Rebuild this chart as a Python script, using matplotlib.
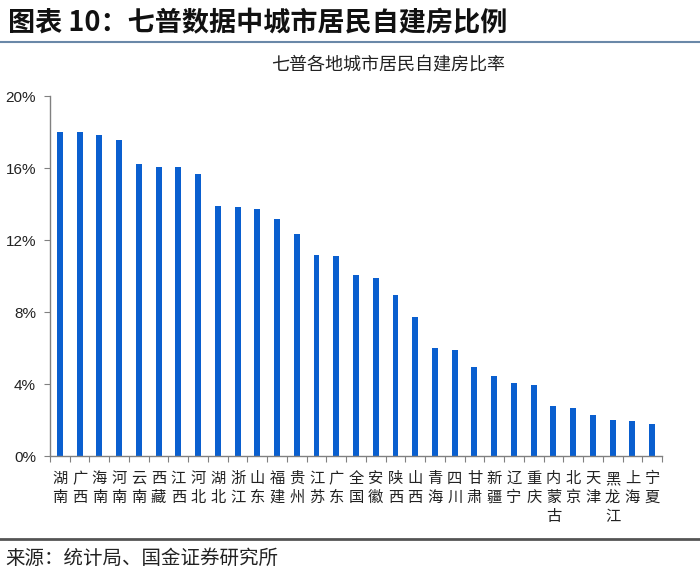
import matplotlib
matplotlib.use("Agg")
import matplotlib.pyplot as plt
from matplotlib.lines import Line2D
import numpy as np

plt.rcParams['font.family'] = ['Noto Sans CJK SC', 'DejaVu Sans']

# --- data ---
regions = ['湖南', '广西', '海南', '河南', '云南', '西藏', '江西', '河北', '湖北', '浙江',
           '山东', '福建', '贵州', '江苏', '广东', '全国', '安徽', '陕西', '山西', '青海',
           '四川', '甘肃', '新疆', '辽宁', '重庆', '内蒙古', '北京', '天津', '黑龙江', '上海',
           '宁夏']
ratio = [17.98, 17.98, 17.83, 17.54, 16.20, 16.07, 16.07, 15.67, 13.89, 13.81,
         13.70, 13.19, 12.31, 11.17, 11.09, 10.04, 9.89, 8.94, 7.74, 6.02,
         5.89, 4.93, 4.44, 4.07, 3.93, 2.80, 2.69, 2.28, 2.02, 1.96,
         1.78]
y_ticks = [0, 4, 8, 12, 16, 20]

title = '图表 10：七普数据中城市居民自建房比例'
subtitle = '七普各地城市居民自建房比率'
source = '来源：统计局、国金证券研究所'

BLUE = '#0A5FCF'
AXIS_GREY = '#808080'

fig = plt.figure(figsize=(7.0, 5.77), dpi=100)
ax = fig.add_axes([50 / 700, 1 - 456 / 577, 612 / 700, 360 / 577])

x = np.arange(len(regions))
ax.bar(x, ratio, width=0.3, color=BLUE, zorder=2)

ax.set_xlim(-0.5, len(regions) - 0.5)
ax.set_ylim(0, 20)
ax.set_yticks(y_ticks)
ax.set_yticklabels([f'{v}%' for v in y_ticks], family=['Liberation Sans', 'DejaVu Sans'],
                   fontsize=11, color='#222222')

# category ticks sit between bars, labels stacked vertically
ax.set_xticks(np.arange(len(regions) + 1) - 0.5)
ax.set_xticklabels([])
ax.set_xticks(x, minor=True)
ax.set_xticklabels(['\n'.join(r) for r in regions], minor=True, fontsize=11,
                   color='#222222', va='top', linespacing=1.15)
ax.tick_params(axis='x', which='minor', length=0, pad=10)
ax.tick_params(axis='x', which='major', length=4, color=AXIS_GREY, direction='out')
ax.tick_params(axis='y', length=4, color=AXIS_GREY, direction='out', pad=6)

for side in ['top', 'right']:
    ax.spines[side].set_visible(False)
for side in ['left', 'bottom']:
    ax.spines[side].set_color(AXIS_GREY)
    ax.spines[side].set_linewidth(1)

# header and footer
fig.text(8 / 700, 1 - 23 / 577, title, fontsize=19.5, fontweight='bold', va='center',
         ha='left', color='#111111')
fig.add_artist(Line2D([0, 1], [1 - 42 / 577] * 2, color='#6A88A8', lw=1.5))
fig.text(388 / 700, 1 - 65 / 577, subtitle, fontsize=13, ha='center', va='center',
         color='#222222')
fig.add_artist(Line2D([0, 1], [1 - 539 / 577] * 2, color='#555555', lw=2))
fig.text(5 / 700, 1 - 558 / 577, source, fontsize=14, ha='left', va='center',
         color='#222222')

fig.savefig('out.png', dpi=100)
